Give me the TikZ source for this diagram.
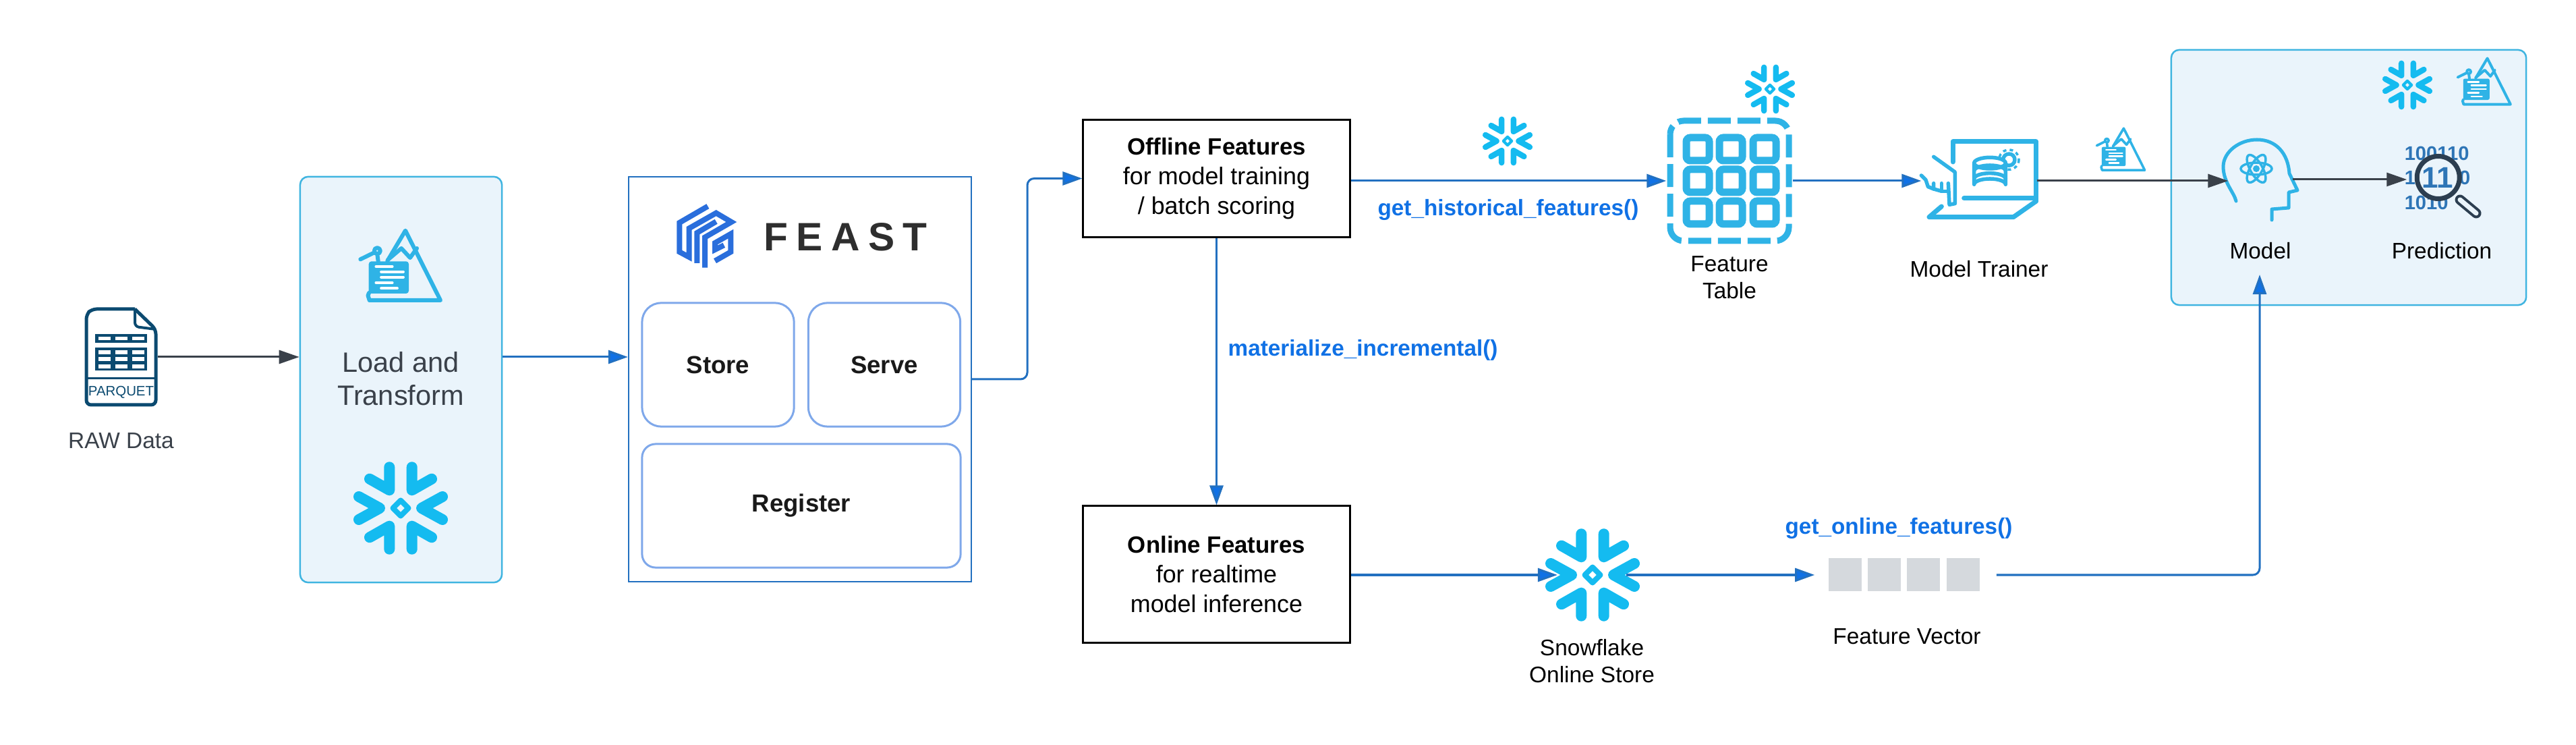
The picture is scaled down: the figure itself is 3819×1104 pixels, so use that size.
\documentclass[tikz,border=0pt]{standalone}
\usepackage{fontspec}
\setmainfont{Liberation Sans}
\newfontfamily\feastfont[LetterSpace=21]{Liberation Sans}
\usetikzlibrary{arrows.meta}
\definecolor{flakeblue}{HTML}{14BBF0}
\definecolor{iconblue}{HTML}{2FB3E6}
\definecolor{panelfill}{HTML}{EAF4FB}
\definecolor{panelline}{HTML}{3FB4E0}
\definecolor{linkblue}{HTML}{2270C0}
\definecolor{tipblue}{HTML}{1071E5}
\definecolor{slate}{HTML}{3A414A}
\definecolor{navy}{HTML}{0B4A70}
\definecolor{digitblue}{HTML}{2E75B6}
\definecolor{logoblue}{HTML}{2A6EDC}
\definecolor{lensdark}{HTML}{2C3E50}
\definecolor{cellgrey}{HTML}{D5D9DD}
\newcommand{\snowflake}[3]{
\begin{scope}[shift={(#1,#2)},scale=#3,flakeblue,line width=#3*0.16cm,line cap=round,line join=round]
\foreach \sx in {1,-1} {
\foreach \sy in {1,-1} {
\draw [xscale=\sx,yscale=\sy] (-16.7,-60.7) -- (-16.7,-26.7) -- (-46,-43.3);
}
\draw [xscale=\sx] (-62,-17) -- (-31,0) -- (-62,17);
}
\draw [line width=#3*0.08cm] (0,-11.5) -- (11.5,0) -- (0,11.5) -- (-11.5,0) -- cycle;
\end{scope}}
\newcommand{\mountainicon}[3]{
\begin{scope}[shift={(#1,#2)},scale=#3,iconblue,line width=#3*0.06cm,line cap=round,line join=round]
\draw (42.3,48.7) -- (69,3.7) -- (121,107) -- (15.7,107) -- (13.5,100) -- (15,96);
\draw (43,47) -- (63,30) -- (76,44) -- (86,30);
\draw (2.3,46.3) -- (21.3,37);
\draw (27.3,33.7) circle (4.5);
\draw (27.3,38.7) -- (28.7,49.3);
\fill [rounded corners=#3*0.04cm] (14.7,49.3) rectangle (74,97);
\draw [white,line width=#3*0.037cm] (25.3,57) -- (49.7,57);
\draw [white,line width=#3*0.037cm] (33,64.7) -- (66,64.7);
\draw [white,line width=#3*0.037cm] (33,72.7) -- (66,72.7);
\draw [white,line width=#3*0.037cm] (25.3,81) -- (49.7,81);
\draw [white,line width=#3*0.037cm] (33,89.3) -- (57,89.3);
\end{scope}}
\begin{document}
\begin{tikzpicture}[x=0.01cm,y=-0.01cm]
\tikzstyle{every node}+=[inner sep=0pt]
\tikzstyle{iconbox}=[rectangle]
\tikzstyle{panel}=[draw=panelline,fill=panelfill,line width=0.025cm,rounded corners=0.12cm]
\tikzstyle{part}=[draw=#1,line width=0.03cm,rounded corners=0.28cm,font=\fontsize{10.4}{12.5}\selectfont\bfseries,text=black!90]
\tikzstyle{featbox}=[draw=black,line width=0.03cm,fill=white,align=center,minimum width=3.95cm,font=\fontsize{10.2}{12.6}\selectfont]
\tikzstyle{caption}=[align=center,font=\fontsize{9.5}{11.4}\selectfont,text=black]
\tikzstyle{apilabel}=[font=\fontsize{9.47}{11.4}\selectfont\bfseries,text=tipblue]
\tikzstyle{bitrow}=[font=\fontsize{8.3}{10}\selectfont\bfseries,text=digitblue]
\tikzstyle{bluelink}=[draw=linkblue,line width=0.03cm,-{Triangle[length=0.29cm,width=0.2cm,fill=tipblue]}]
\tikzstyle{darklink}=[draw=slate,line width=0.03cm,-{Triangle[length=0.3cm,width=0.2cm,fill=slate]}]
\useasboundingbox (0,0) rectangle (3819,1104);
% raw file
\node [iconbox,minimum width=1.07cm,minimum height=1.46cm] (raw) at (179.5,529) {};
\draw [navy,line width=0.05cm,rounded corners=0.07cm] (200,458) -- (136,458) -- (128,466) -- (128,600) -- (231,600) -- (231,488) -- (200,458);
\draw [navy,line width=0.04cm,rounded corners=0.06cm] (200,458) -- (200,484) -- (231,488);
\draw [navy,line width=0.03cm] (128,561) -- (231,561);
\fill [navy] (141,495) rectangle (218,508);
\fill [navy] (141,515) rectangle (218,549);
\foreach \cx in {146,171,196} {
\fill [white] (\cx,499) rectangle (\cx+18,504);
\foreach \cy in {519,529,540} {
\fill [white] (\cx,\cy) rectangle (\cx+18,\cy+6);
}}
\node [font=\fontsize{5.8}{7}\selectfont,text=navy] (rawtype) at (179.5,581) {PARQUET};
\node [caption,text=slate] (rawname) at (179.5,653) {RAW Data};
% load and transform
\node [panel,minimum width=2.99cm,minimum height=6.01cm] (load) at (594.5,562.5) {};
\mountainicon{532}{338}{1}
\node [align=center,font=\fontsize{11.8}{14}\selectfont,text=slate] (loadname) at (594,561) {Load and\\Transform};
\snowflake{594}{753}{1}
% feast
\node [draw=linkblue,line width=0.02cm,minimum width=5.08cm,minimum height=6cm] (feast) at (1186,562) {};
\begin{scope}[shift={(990,295)},scale=0.3333,logoblue,line width=0.08cm,line join=miter]
\draw (178,32) -- (52,105) -- (52,235) -- (95,258) -- (95,130) -- (215,62) -- (283,102) -- (165,170) -- (165,305);
\draw (130,285) -- (130,150) -- (215,100);
\draw (210,275) -- (280,235) -- (280,155) -- (210,195) -- (210,225) -- (250,205);
\end{scope}
\node [anchor=west,font=\fontsize{16.7}{20}\selectfont\feastfont\bfseries,text=black!82] (feastname) at (1132,351) {FEAST};
\node [part=logoblue!60,minimum width=2.25cm,minimum height=1.83cm] (store) at (1064.5,540.5) {Store};
\node [part=logoblue!60,minimum width=2.25cm,minimum height=1.83cm] (serve) at (1311,540.5) {Serve};
\node [part=logoblue!60,minimum width=4.72cm,minimum height=1.83cm,rounded corners=0.2cm] (register) at (1188,749.5) {Register};
% feature boxes
\node [featbox,minimum height=1.73cm] (offline) at (1803.5,264.5) {\fontsize{9.9}{12.6}\selectfont\textbf{Offline Features}\\for model training\\/ batch scoring};
\node [featbox,minimum height=2.02cm] (online) at (1803.5,851) {\fontsize{9.9}{12.6}\selectfont\textbf{Online Features}\\for realtime\\model inference};
\coordinate (bend) at (1523,562);
% offline path
\snowflake{2235}{209}{0.53}
\node [apilabel] (histlabel) at (2236,311) {get\_historical\_features()};
\node [apilabel,anchor=west] (matlabel) at (1820,519) {materialize\_incremental()};
\snowflake{2624}{132}{0.53}
\node [iconbox,minimum width=1.86cm,minimum height=1.88cm] (ftable) at (2564,268) {};
\draw [iconblue,line width=0.09cm,dash pattern=on 0.34cm off 0.1cm,rounded corners=0.2cm] (2476,179) rectangle (2652,357);
\foreach \cx in {2517,2566,2616} {
\foreach \cy in {221,268,315} {
\draw [iconblue,line width=0.11cm,rounded corners=0.06cm] (\cx-17,\cy-17) rectangle (\cx+17,\cy+17);
}}
\node [caption] (ftablename) at (2564,411) {Feature\\Table};
% trainer
\node [iconbox,minimum width=1.7cm,minimum height=1.2cm] (trainer) at (2934,268) {};
\begin{scope}[shift={(2840,195)},scale=0.3333,iconblue,line width=0.055cm,line cap=round,line join=round]
\draw [line width=0.07cm] (165,135) -- (165,45) -- (535,45) -- (535,310);
\draw [line width=0.07cm] (215,297) -- (535,297);
\draw [line width=0.07cm] (115,333) -- (60,380) -- (435,380) -- (535,310);
\draw (80,112) -- (175,180) -- (175,320) -- (150,325) -- (145,230);
\draw (145,265) -- (115,265) -- (115,230);
\draw (115,265) -- (80,255) -- (80,230);
\draw (80,255) -- (55,245) -- (45,215) -- (25,195);
\draw (415,125) circle (26);
\draw [line width=0.035cm,dash pattern=on 0.05cm off 0.05cm,line cap=butt] (415,125) circle (44);
\fill [white] (260,140) rectangle (400,245);
\fill [white] (330,140) ellipse (70 and 25);
\draw (330,140) ellipse (70 and 25);
\draw (260,140) -- (260,235) arc (180:360:70 and 25) -- (400,140);
\draw (260,175) arc (180:360:70 and 25);
\draw (260,210) arc (180:360:70 and 25);
\end{scope}
\node [caption] (trainername) at (2934,399) {Model Trainer};
\mountainicon{3107}{188}{0.6}
% serving panel
\node [panel,minimum width=5.26cm,minimum height=3.78cm] (serving) at (3482,263) {};
\snowflake{3569}{126}{0.53}
\mountainicon{3642}{84}{0.66}
\node [iconbox,minimum width=0.94cm,minimum height=1.2cm] (model) at (3351,266) {};
\draw [iconblue,line width=0.05cm,line cap=round,line join=round] (3315,298) .. controls (3312,285) and (3296,270) .. (3296,247) .. controls (3296,225) and (3320,207) .. (3346,207) .. controls (3375,207) and (3392,228) .. (3394,257) -- (3406,282) -- (3393,285) -- (3393,308) -- (3368,310) -- (3368,326);
\foreach \ang in {0,60,120} {
\draw [iconblue,line width=0.035cm,rotate around={\ang:(3345,250)}] (3345,250) ellipse (23 and 9);
}
\fill [iconblue] (3345,250) circle (5);
\node [caption] (modelname) at (3351,372) {Model};
\coordinate (modelin) at (3350,407);
\node [iconbox,minimum width=1.02cm,minimum height=1.2cm] (pred) at (3620,266) {};
\node [bitrow,anchor=west] (bitsa) at (3564,227) {100110};
\node [bitrow,anchor=west] (bitsb) at (3564,263) {1};
\node [bitrow,anchor=east] (bitsd) at (3663,263) {0};
\node [bitrow,anchor=west] (bitsc) at (3564,300) {1010};
\draw [lensdark,line width=0.15cm,line cap=round] (3647,296) -- (3671,316);
\draw [panelfill,line width=0.07cm,line cap=round] (3647,296) -- (3671,316);
\draw [lensdark,line width=0.07cm,fill=panelfill] (3614.7,263) circle (31.5);
\node [font=\fontsize{12.5}{14}\selectfont\bfseries,text=digitblue] (bitslens) at (3614,263) {11};
\node [caption] (predname) at (3620,372) {Prediction};
% online path
\node [iconbox,minimum width=1.01cm,minimum height=1.39cm] (onstore) at (2360,852) {};
\snowflake{2361}{852}{1}
\node [caption] (onstorename) at (2360,980) {Snowflake\\Online Store};
\node [apilabel] (onlinelabel) at (2815,783) {get\_online\_features()};
\node [iconbox,minimum width=2.68cm,minimum height=0.49cm] (fvec) at (2825,852) {};
\foreach \cx in {2711,2769,2827,2886} {
\fill [cellgrey] (\cx,827) rectangle (\cx+49,876);
}
\node [caption] (fvecname) at (2827,943) {Feature Vector};
% links
\draw [darklink] (raw.east) -- (load.west |- raw.east);
\draw [bluelink] (load.east |- raw.east) -- (feast.west |- raw.east);
\draw [bluelink,rounded corners=0.1cm] (feast.east) -- (bend) |- (offline.west);
\draw [bluelink] (offline.east |- ftable.west) -- (ftable.west);
\draw [bluelink] (offline.south) -- (online.north);
\draw [bluelink] (ftable.east) -- (trainer.west);
\draw [darklink] (trainer.east) -- (model.west |- trainer.east);
\draw [darklink] (model.east) -- (pred.west);
\draw [bluelink] (online.east |- onstore.west) -- (onstore.west);
\draw [bluelink] (onstore.east) -- (fvec.west);
\draw [bluelink,rounded corners=0.1cm] (fvec.east) -| (modelin);
\end{tikzpicture}
\end{document}
